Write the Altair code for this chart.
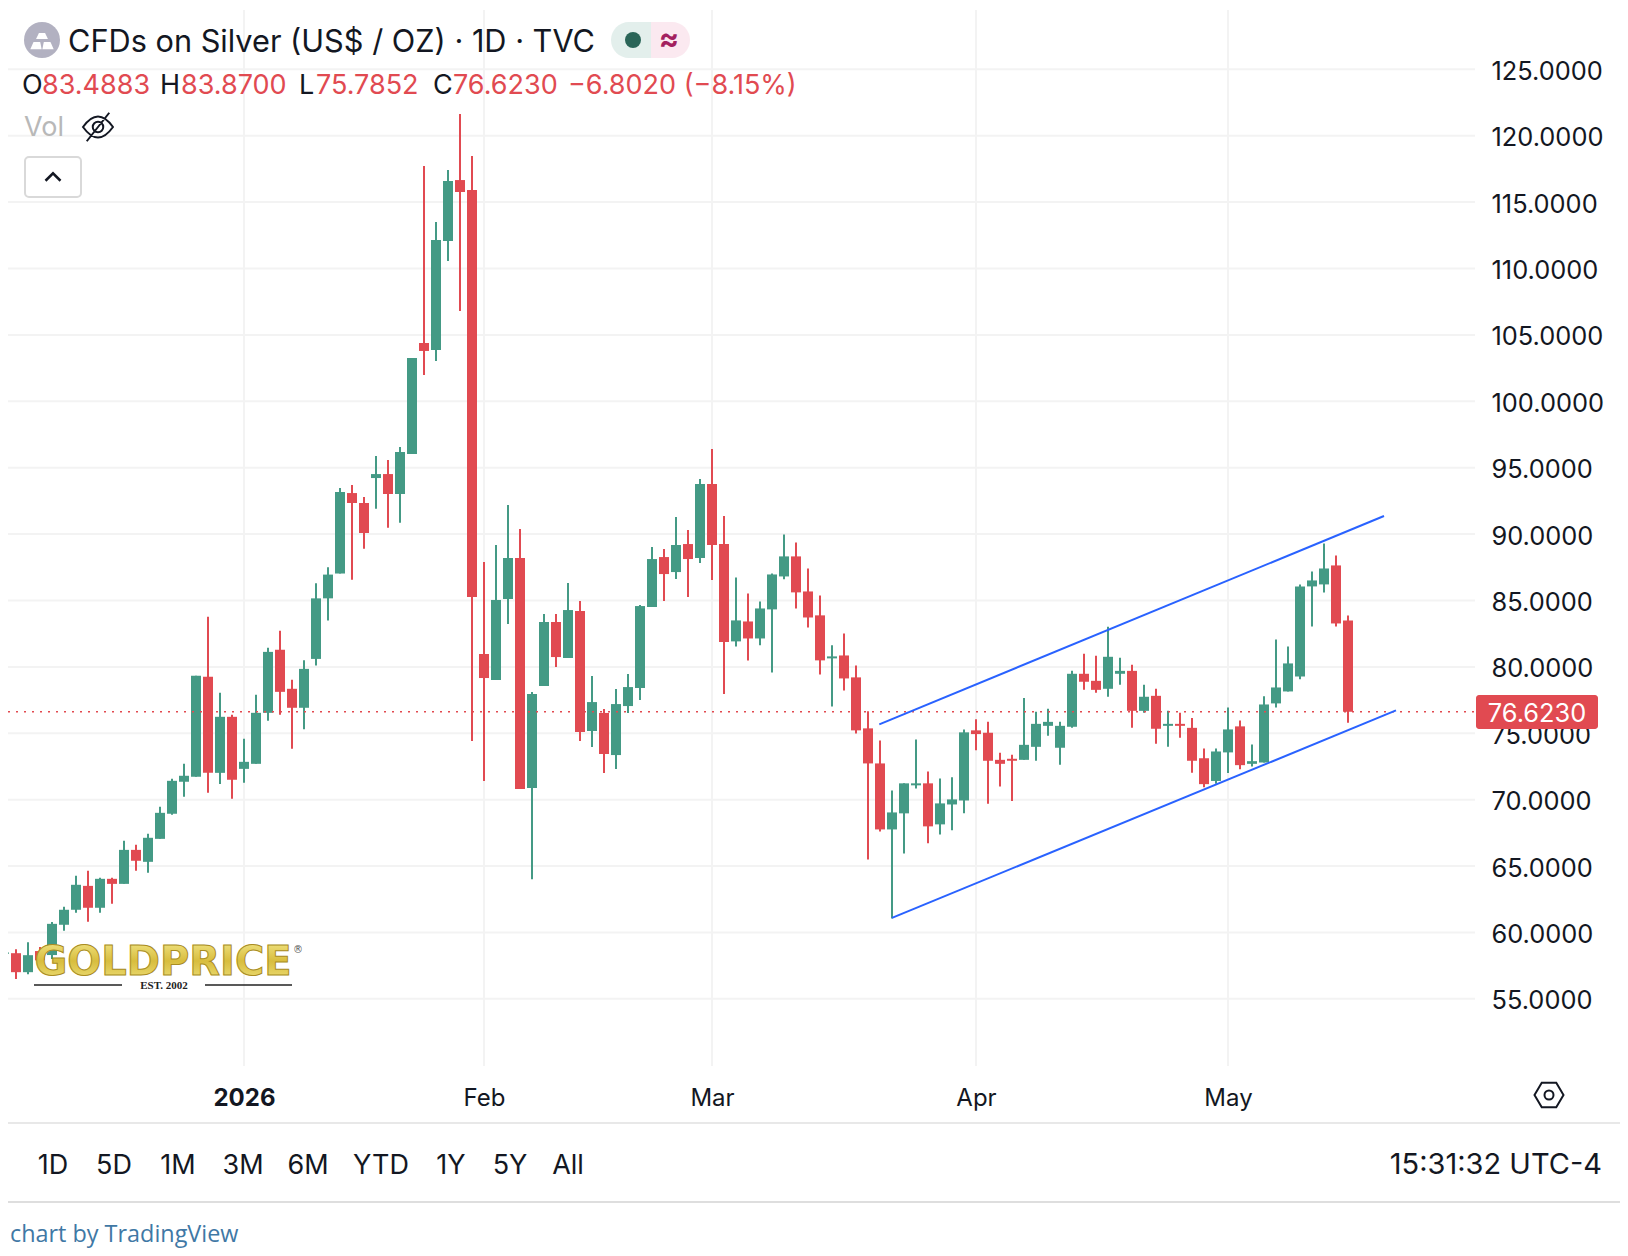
import altair as alt
import pandas as pd

opens = [58.40,58.44,57.01,58.60,58.30,60.58,61.71,63.51,61.86,64.04,63.66,66.22,65.32,67.05,68.94,71.35,71.72,79.25,72.02,76.24,
72.32,72.70,76.54,81.29,78.35,76.92,80.60,85.16,87.03,93.09,92.34,94.22,94.52,93.02,96.03,104.39,103.86,112.07,116.66,115.91,
80.97,79.01,85.11,88.20,70.88,78.56,83.38,80.67,84.21,75.17,76.53,73.36,77.05,78.41,84.51,88.27,87.14,89.25,88.20,93.77,
89.25,81.92,83.42,82.14,84.33,86.81,88.32,85.68,83.88,80.64,80.86,79.21,75.37,72.73,67.76,68.97,71.08,71.23,68.14,69.64,
69.94,75.22,75.04,73.00,73.08,73.00,73.98,75.56,73.91,75.49,79.48,78.95,78.35,79.48,79.70,76.69,77.82,75.56,75.71,75.41,
73.12,71.41,73.56,75.52,72.70,72.80,77.25,78.15,79.28,86.06,86.21,87.64,83.49]
highs = [58.55,58.74,59.27,58.90,60.78,61.93,64.27,64.64,64.12,64.12,66.90,66.60,67.43,69.46,71.57,72.70,79.33,83.77,78.05,76.39,
74.58,77.90,81.44,82.72,79.03,80.50,86.30,87.50,93.47,93.70,92.79,95.88,95.58,96.56,103.26,117.72,113.50,117.41,121.63,118.47,
87.90,89.18,92.19,90.38,78.11,83.98,83.98,86.32,84.96,79.31,76.83,78.33,79.46,84.66,89.03,88.88,91.29,90.31,94.15,96.41,
91.36,86.74,85.53,84.93,87.04,89.97,89.37,87.41,85.38,81.62,82.52,80.11,76.65,74.46,70.70,71.23,74.54,72.13,71.60,71.68,
75.29,76.06,75.86,73.53,73.38,77.65,76.62,76.84,75.86,79.70,80.98,80.83,83.02,80.68,80.16,78.65,78.35,76.69,76.54,76.16,
73.86,73.86,76.95,75.97,74.16,77.78,82.07,81.54,86.21,87.19,89.30,88.39,83.87]
lows = [58.35,56.49,56.86,57.20,58.00,60.13,61.48,60.80,61.48,62.16,63.66,64.64,64.49,67.05,68.86,70.22,71.72,70.52,71.19,70.07,
71.27,72.70,75.94,76.39,73.83,75.30,80.10,83.50,87.03,86.56,88.90,91.90,90.47,90.86,96.03,101.98,103.03,110.56,106.80,74.42,
71.41,79.01,83.23,70.80,64.00,78.56,79.99,80.67,74.42,73.97,72.01,72.31,76.53,77.50,84.51,84.96,86.62,85.26,87.82,86.55,
77.96,81.54,80.49,81.62,79.58,86.59,84.40,82.97,79.43,77.02,78.23,74.99,65.50,67.61,61.05,65.95,70.85,66.71,67.38,67.69,
68.97,73.73,69.70,71.00,69.90,73.00,72.93,74.81,72.63,75.41,78.27,78.05,77.75,78.65,75.41,76.54,74.21,73.98,74.66,72.02,
70.94,71.20,72.00,72.30,72.50,72.80,76.95,78.15,79.06,83.05,85.61,83.05,75.79]
closes = [58.50,57.01,58.29,57.90,60.65,61.71,63.59,61.86,64.04,63.66,66.22,65.40,67.13,69.01,71.42,71.80,79.33,72.02,76.24,71.50,
72.85,76.54,81.13,78.12,76.92,79.85,85.16,86.95,93.17,92.34,90.08,94.52,93.02,96.18,103.26,103.79,112.14,116.59,115.76,85.26,
79.16,85.04,88.20,70.80,77.96,83.38,80.74,84.28,75.10,77.35,73.44,77.20,78.48,84.58,88.12,86.99,89.18,88.12,93.77,89.18,
81.87,83.50,82.14,84.40,86.96,88.32,85.61,83.72,80.49,80.79,79.13,75.22,72.73,67.76,69.04,71.23,71.23,67.99,69.72,70.02,
75.07,74.94,72.93,72.70,72.93,74.13,75.71,75.86,75.56,79.48,78.88,78.27,80.76,79.70,76.69,77.75,75.34,75.71,75.56,72.93,
71.17,73.63,75.29,72.60,72.90,77.17,78.45,80.26,86.06,86.51,87.41,83.27,76.62]

price_ticks = [55, 60, 65, 70, 75, 80, 85, 90, 95, 100, 105, 110, 115, 120, 125]
time_ticks = [20, 40, 59, 81, 102]
time_labels = ["2026", "Feb", "Mar", "Apr", "May"]
last_price = 76.623
channel_upper_x = [72.94, 115.0]
channel_upper_p = [75.67, 91.36]
channel_lower_x = [74.0, 116.0]
channel_lower_p = [61.1, 76.72]
range_buttons = ["1D", "5D", "1M", "3M", "6M", "YTD", "1Y", "5Y", "All"]
range_button_x = [53, 114, 178, 243, 308, 381, 451, 510, 568]

GREEN, RED, BLUE = "#449a85", "#e14a51", "#2962ff"
GRID = "#f3f3f3"
INK = "#131722"
SANS = "Inter"
W, H = 1612, 1240

candles = pd.DataFrame({"i": range(len(opens)), "o": opens, "h": highs, "l": lows, "c": closes})
candles["dir"] = ["up" if c >= o else "down" for o, c in zip(opens, closes)]
channels = pd.DataFrame({
    "x": channel_upper_x + channel_lower_x,
    "p": channel_upper_p + channel_lower_p,
    "line": ["upper", "upper", "lower", "lower"],
})
xs = alt.Scale(domain=[1 / 3, 134 + 2 / 3], nice=False, zero=False, padding=0)
ys = alt.Scale(domain=[36.24, 129.616], nice=False, zero=False, padding=0)
dir_color = alt.Color("dir:N", scale=alt.Scale(domain=["up", "down"], range=[GREEN, RED]), legend=None)
blank = alt.Data(values=[{"a": 1}])


def X(px):
    return alt.value(px - 8)


def Y(py):
    return alt.value(py - 8)


def label(text, px, py, size=27, color=INK, align="left", font=SANS, **kw):
    return alt.Chart(blank).mark_text(text=text, fontSize=size, color=color, align=align,
                                      baseline="middle", font=font, **kw).encode(x=X(px), y=Y(py + 2))


def box(x0, x1, y0, y1, **kw):
    return alt.Chart(blank).mark_rect(**kw).encode(x=X(x0), x2=X(x1), y=Y(y0), y2=Y(y1))


def hline(x0, x1, py, color, width=2):
    return alt.Chart(blank).mark_rule(color=color, strokeWidth=width).encode(x=X(x0), x2=X(x1), y=Y(py))


def icon(shape, px, py, d, **kw):
    return alt.Chart(blank).mark_point(shape=shape, size=d * d, **kw).encode(x=X(px), y=Y(py))


x_axis = alt.Axis(values=time_ticks, title=None, orient="bottom", offset=-150, domain=False, ticks=False, grid=False,
                  labelPadding=0, labelBaseline="middle", labelAngle=0, labelAlign="center", labelFontSize=24,
                  labelFont=SANS, labelColor=INK, labelOverlap=False, labelFlush=False,
                  labelExpr="{20:'2026',40:'Feb',59:'Mar',81:'Apr',102:'May'}[datum.value]",
                  labelFontWeight={"condition": {"test": "datum.value == 20", "value": "bold"}, "value": "normal"})
y_axis = alt.Axis(values=price_ticks, title=None, orient="right", offset=-145, domain=False, ticks=False, grid=False,
                  labelPadding=16, labelBaseline="middle", labelAlign="left", labelFontSize=25.4, labelFont=SANS,
                  labelColor=INK, labelOverlap=False, labelFlush=False, labelOffset=2, format=".4f")

vgrid = alt.Chart(pd.DataFrame({"t": time_ticks})).mark_rule(color=GRID, strokeWidth=2).encode(
    x=alt.X("t:Q", scale=xs, axis=x_axis), y=Y(10), y2=Y(1066))
hgrid = alt.Chart(pd.DataFrame({"p": price_ticks})).mark_rule(color=GRID, strokeWidth=2).encode(
    y=alt.Y("p:Q", scale=ys, axis=y_axis), x=X(8), x2=X(1475))
wicks = alt.Chart(candles).mark_rule(strokeWidth=2).encode(
    x=alt.X("i:Q", scale=xs, axis=x_axis), y=alt.Y("l:Q", scale=ys, axis=y_axis), y2="h:Q", color=dir_color)
bodies = alt.Chart(candles).mark_bar(size=10, orient="vertical").encode(
    x=alt.X("i:Q", scale=xs, axis=x_axis), y=alt.Y("o:Q", scale=ys, axis=y_axis), y2="c:Q", color=dir_color)
price_line = alt.Chart(pd.DataFrame({"p": [last_price]})).mark_rule(
    color=RED, strokeWidth=1.6, strokeDash=[2, 6]).encode(y=alt.Y("p:Q", scale=ys, axis=y_axis), x=X(8), x2=X(1475))
channel_lines = alt.Chart(channels).mark_line(color=BLUE, strokeWidth=2).encode(
    x=alt.X("x:Q", scale=xs, axis=x_axis), y=alt.Y("p:Q", scale=ys, axis=y_axis), detail="line:N")

silver_top = "M-0.17,-0.39L0.17,-0.39L0.33,-0.05L-0.33,-0.05Z"
silver_l = "M-0.47,0.11L-0.1,0.11L-0.02,0.52L-0.65,0.52Z"
silver_r = "M0.1,0.11L0.47,0.11L0.65,0.52L0.02,0.52Z"
eye = ("M-1,0Q-0.5,-0.7 0,-0.7Q0.5,-0.7 1,0Q0.5,0.7 0,0.7Q-0.5,0.7 -1,0Z"
       "M-0.35,0A0.35,0.35 0 1,1 0.35,0A0.35,0.35 0 1,1 -0.35,0Z"
       "M-0.75,0.95L0.75,-0.95")
hexagon = "M-1,0L-0.5,-0.85L0.5,-0.85L1,0L0.5,0.85L-0.5,0.85Z"
chevron = "M-1,0.5L0,-0.5L1,0.5"
gold = alt.LinearGradient(gradient="linear", x1=0, x2=0, y1=0, y2=1, stops=[
    alt.GradientStop(color="#f4e98c", offset=0),
    alt.GradientStop(color="#d8bd3e", offset=0.5),
    alt.GradientStop(color="#efe27e", offset=1),
])

layers = [
    vgrid, hgrid, wicks, bodies, price_line, channel_lines,
    # logo
    label("GOLDPRICE", 163, 961, size=40, color=gold, align="center", font="DejaVu Sans", fontWeight="bold",
          stroke="#a98c22", strokeWidth=1),
    label("®", 298, 948, size=10, color="#555555", align="center", font="DejaVu Sans"),
    label("EST. 2002", 164, 984, size=11, color="#222222", align="center", font="Liberation Serif", fontWeight="bold"),
    hline(34, 122, 985, "#222222", 1.5),
    hline(205, 292, 985, "#222222", 1.5),
    # last price tag
    box(1476, 1598, 695, 729, color=RED, cornerRadius=3),
    label("76.6230", 1537, 712, size=25.4, color="#ffffff", align="center"),
    # legend header
    icon("circle", 42, 40, 36, filled=True, color="#b2b1c1", opacity=1),
    icon(silver_top, 42, 40, 36, filled=True, color="#ffffff", opacity=1),
    icon(silver_l, 42, 40, 36, filled=True, color="#ffffff", opacity=1),
    icon(silver_r, 42, 40, 36, filled=True, color="#ffffff", opacity=1),
    label("CFDs on Silver (US$ / OZ) · 1D · TVC", 68, 41, size=30.7),
    box(611, 651, 22, 58, color="#e3efec", cornerRadiusTopLeft=18, cornerRadiusBottomLeft=18),
    box(651, 690, 22, 58, color="#fbe9f0", cornerRadiusTopRight=18, cornerRadiusBottomRight=18),
    icon("circle", 633, 40, 16, filled=True, color="#2a6558", opacity=1),
    label("≈", 669, 38, size=30, color="#a3215f", align="center", fontWeight="bold"),
    label("O", 22, 84), label("83.4883", 42, 84, color=RED),
    label("H", 160, 84), label("83.8700", 181, 84, color=RED),
    label("L", 299, 84), label("75.7852", 316, 84, color=RED),
    label("C", 433, 84), label("76.6230", 453, 84, color=RED),
    label("−6.8020 (−8.15%)", 568, 84, color=RED),
    label("Vol", 24, 126, color="#b8b8b8"),
    icon(eye, 98, 127, 30, filled=False, color=INK, strokeWidth=2, opacity=1),
    box(25, 81, 157, 197, color="#ffffff", stroke="#d9d9d9", strokeWidth=2, cornerRadius=4),
    icon(chevron, 53, 177, 15, filled=False, color=INK, strokeWidth=2.5, opacity=1),
    # frame
    hline(8, 1620, 1123, "#e8e8e8"),
    hline(8, 1620, 1202, "#dedede"),
    icon(hexagon, 1549, 1095, 29, filled=False, color=INK, strokeWidth=2, opacity=1),
    icon("circle", 1549, 1095, 9, filled=False, color=INK, strokeWidth=2, opacity=1),
]
layers += [label(t, x, 1164, align="center") for t, x in zip(range_buttons, range_button_x)]
layers += [
    label("15:31:32 UTC-4", 1602, 1163, size=29, align="right"),
    label("chart by TradingView", 10, 1233, size=23.4, color="#3f78a5", font="Open Sans"),
]

chart = alt.layer(*layers).properties(
    width=W, height=H, padding=0, autosize=alt.AutoSizeParams(type="none"), background="#ffffff"
).configure_view(stroke=None)

chart.save("out.html", embed_options={"renderer": "svg", "actions": False})
